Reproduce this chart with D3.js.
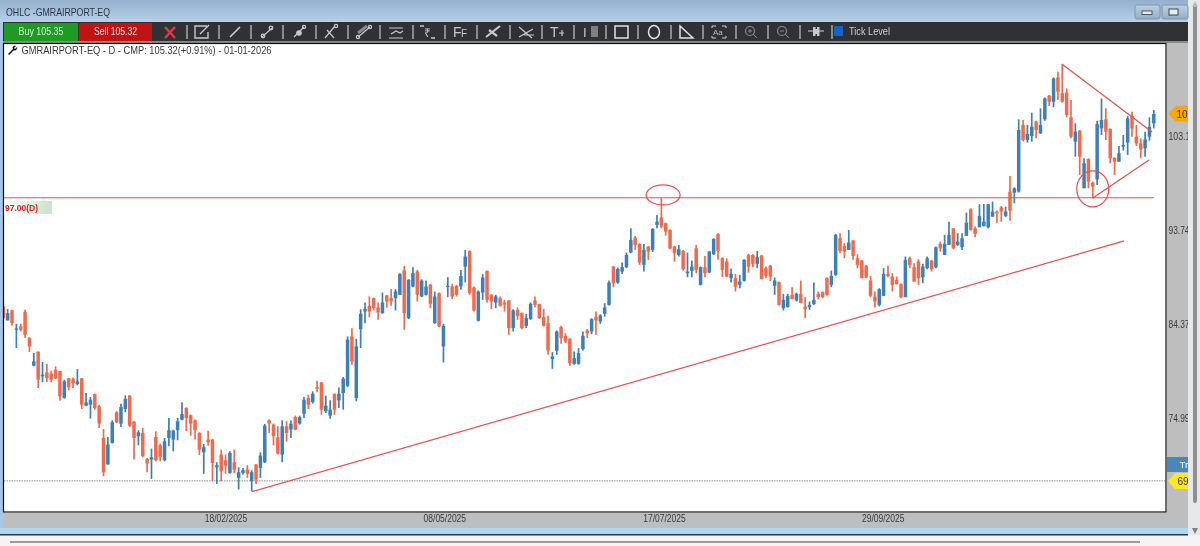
<!DOCTYPE html>
<html><head><meta charset="utf-8">
<script src="https://d3js.org/d3.v7.min.js"></script>
<style>html,body{margin:0;padding:0;background:#fff;overflow:hidden}svg{display:block;filter:blur(0.3px)}text{font-family:"Liberation Sans",Arial,sans-serif}</style>
</head><body><div id="c"></div>
<script>
const highs=[86.45,85.85,85.78,84.39,84.39,85.78,83.06,81.47,81.63,80.57,
80.41,79.71,80.14,79.71,78.81,78.98,79.04,79.87,78.98,77.48,
77.09,77.42,76.29,73.9,73.1,74.76,75.66,76.42,77.25,77.28,
74.7,73.77,74.0,71.01,71.94,73.67,72.44,73.0,74.99,73.83,
74.99,76.55,76.06,75.33,74.83,73.57,72.4,73.73,72.9,70.58,
71.84,71.34,71.67,71.84,70.08,70.01,70.28,69.78,70.41,71.57,
74.4,74.83,74.43,74.16,74.76,74.66,74.73,75.23,75.23,77.08,
77.31,77.65,78.71,78.58,77.21,76.75,77.41,78.04,79.07,83.12,
83.95,82.89,85.84,86.51,87.11,87.0,86.51,87.5,87.27,87.84,
87.84,89.43,90.16,88.83,90.03,89.76,88.83,88.7,88.37,87.6,
87.5,84.38,89.03,88.37,88.27,89.76,91.75,91.69,88.1,87.7,
89.33,89.7,87.34,87.27,87.11,86.77,86.77,85.84,86.01,85.51,
85.38,86.51,87.11,86.38,85.88,85.18,81.56,83.72,84.18,83.45,
82.96,81.63,81.96,83.62,83.85,84.95,85.61,85.34,86.44,88.7,
90.16,89.99,90.49,91.49,93.91,93.15,92.42,92.35,92.15,93.91,
95.24,96.9,94.47,93.81,92.15,92.25,91.75,91.49,90.69,92.25,
90.09,91.15,91.65,92.91,93.41,91.02,90.92,89.89,89.36,89.26,
90.82,91.35,91.32,91.65,91.25,90.09,90.26,88.99,88.6,87.37,
87.37,88.03,87.5,88.7,87.04,86.61,88.5,87.6,87.6,89.03,
89.69,93.35,93.41,92.42,93.74,92.75,91.32,90.76,90.26,89.16,
87.6,87.93,89.93,90.16,89.43,89.1,88.43,91.09,91.09,90.42,
90.82,90.36,91.09,90.76,92.08,92.58,93.25,94.57,93.91,93.41,
93.41,95.47,95.9,94.08,96.3,96.33,96.33,96.57,95.67,96.13,
96.07,99.12,97.99,104.77,104.7,104.21,105.43,104.64,105.87,106.96,
107.19,108.95,109.52,110.28,107.86,106.7,104.37,103.71,100.89,100.89,
98.56,104.64,106.86,105.87,103.87,100.99,102.11,103.21,105.1,105.53,
104.21,102.88,103.54,104.97,105.7];
const lows=[84.72,84.72,84.19,81.97,83.63,82.96,81.57,80.14,77.98,78.55,
78.58,78.55,78.88,76.72,76.92,77.75,77.98,78.25,75.89,76.16,
74.93,75.82,74.0,69.18,70.35,72.44,74.5,74.1,75.56,74.1,
70.84,72.27,71.08,69.58,68.92,70.68,70.68,70.68,72.17,71.67,
72.77,74.76,73.67,73.23,72.84,71.28,69.42,72.24,68.69,68.42,
68.69,69.45,69.42,69.52,67.86,69.35,69.02,67.69,68.42,69.02,
70.51,73.5,72.27,71.34,70.58,72.64,73.0,73.77,74.33,74.99,
75.89,76.42,77.55,75.32,75.49,74.92,75.32,75.99,75.82,78.08,
80.3,76.65,81.96,84.45,85.05,85.71,84.78,85.38,85.99,86.18,
85.71,87.27,83.79,84.85,88.04,86.61,87.04,87.21,85.94,84.38,
84.05,80.53,87.04,86.84,87.11,87.77,88.5,87.27,85.61,84.62,
86.77,86.51,85.84,85.94,86.11,85.61,83.29,83.62,84.78,83.85,
83.95,84.78,86.04,84.88,84.12,81.3,79.9,81.3,82.39,82.46,
80.2,80.3,80.3,81.73,82.96,83.35,83.29,84.38,85.11,86.2,
88.03,88.37,89.36,89.93,91.42,91.75,90.26,89.59,90.76,91.55,
93.91,93.91,93.18,91.82,90.59,91.09,89.69,89.03,89.03,89.43,
88.2,89.03,89.43,91.25,90.76,89.03,89.03,88.5,87.6,87.93,
88.6,89.49,90.03,89.93,88.83,88.93,88.66,87.27,86.2,85.71,
86.01,86.84,86.61,86.44,84.95,85.78,86.27,86.84,86.94,87.17,
88.03,89.16,91.42,90.92,91.75,90.76,89.93,88.93,88.93,87.04,
86.01,86.11,87.17,89.03,87.6,88.33,86.94,87.04,89.93,88.6,
88.27,88.43,89.83,89.59,89.93,91.59,91.25,92.25,91.82,92.15,
91.75,93.15,93.68,93.01,94.01,94.08,93.91,95.07,94.47,94.57,
95.01,94.67,96.4,97.47,102.55,102.45,102.55,102.88,103.31,104.64,
106.1,105.97,106.7,106.43,104.97,102.88,101.05,99.23,97.9,97.9,
96.9,98.23,103.21,102.71,100.39,99.23,100.55,101.65,101.22,103.04,
102.11,100.89,101.05,102.65,103.87];
const opens=[86.12,84.72,85.72,83.79,84.12,85.58,82.96,80.21,81.6,79.14,
79.54,79.41,79.81,79.68,76.99,78.95,78.91,78.38,78.95,76.22,
76.32,77.38,76.16,73.0,70.35,72.5,75.56,74.43,75.89,77.22,
74.63,73.17,73.5,70.91,70.84,73.1,72.27,70.78,73.0,72.84,
73.77,74.83,75.99,75.26,74.76,73.5,71.57,72.84,72.84,70.08,
71.34,70.78,69.52,70.58,69.02,69.52,69.85,68.69,70.35,70.01,
70.58,74.76,74.33,73.07,71.34,74.16,73.83,75.09,74.43,75.42,
76.98,76.58,78.08,78.54,75.65,75.22,77.41,76.75,77.48,78.21,
83.12,76.98,83.85,85.61,86.18,86.94,86.01,85.45,87.21,86.94,
86.94,87.27,89.7,84.95,88.1,89.6,87.11,87.27,88.27,84.45,
87.44,82.13,88.04,88.1,88.17,88.1,90.09,91.65,88.0,84.68,
87.5,89.66,87.27,86.51,86.94,86.51,86.71,83.95,85.78,85.45,
84.18,84.85,86.71,86.34,85.05,84.45,80.86,81.69,84.05,83.19,
82.89,80.4,80.4,81.86,83.72,83.62,85.05,84.61,85.38,86.27,
90.09,88.5,89.59,90.03,91.49,92.98,92.35,90.26,92.08,91.75,
94.24,95.0,94.41,93.74,92.08,91.25,91.65,89.43,89.66,91.92,
88.27,90.03,89.5,91.32,93.35,90.92,90.59,88.93,88.93,88.27,
88.66,91.25,91.25,90.36,91.19,89.93,90.16,88.17,88.53,85.94,
86.04,87.27,86.71,87.37,86.11,86.04,86.34,87.37,87.54,88.93,
88.27,89.26,92.91,92.15,91.75,92.68,90.92,90.69,90.16,88.7,
87.1,86.27,87.17,89.36,89.1,88.76,88.33,87.04,90.92,90.03,
90.59,89.03,89.93,90.69,90.03,92.35,91.25,92.25,93.91,92.25,
92.02,93.15,95.8,93.91,94.01,94.14,94.01,95.07,95.57,96.0,
95.14,97.56,97.46,97.57,104.21,102.71,103.11,104.54,103.38,104.77,
107.13,106.53,108.95,107.36,107.43,104.97,102.55,103.64,97.9,100.82,
98.46,98.79,103.87,104.77,103.81,100.92,100.55,102.05,102.45,105.1,
103.04,102.38,101.88,103.04,104.37];
const closes=[84.95,85.45,84.46,83.92,83.79,83.29,82.13,80.64,78.81,79.31,
78.98,78.81,78.95,77.15,78.65,78.08,78.48,78.65,76.32,76.55,
76.82,75.99,74.43,69.58,72.34,74.56,74.56,76.09,76.89,74.23,
73.0,73.57,71.18,70.45,71.08,70.78,71.11,72.67,73.77,73.73,
74.66,75.39,74.99,74.43,73.77,71.84,72.07,72.57,70.51,70.28,
69.68,70.25,71.51,69.85,69.58,69.78,69.45,69.58,68.85,71.24,
74.23,74.43,73.17,71.44,74.16,73.5,74.43,73.83,75.09,76.82,
76.32,77.41,77.91,75.82,76.22,75.82,75.82,77.41,78.91,82.8,
80.63,82.13,85.38,85.88,85.61,85.94,85.51,86.51,86.61,86.61,
87.6,89.36,85.45,88.77,89.43,87.27,88.7,88.1,86.38,87.11,
84.12,84.18,88.17,87.11,87.27,89.16,91.09,87.44,85.71,87.6,
89.0,86.77,86.61,87.11,86.18,86.28,83.95,85.71,85.18,83.95,
84.95,86.38,86.28,84.95,84.18,81.73,81.13,83.62,82.96,82.62,
80.47,80.96,81.46,83.19,83.45,84.85,84.72,85.21,86.01,88.5,
88.43,89.86,90.03,91.25,92.75,92.25,90.49,91.75,91.59,93.84,
94.57,94.08,93.58,91.88,91.42,91.82,89.83,89.59,90.09,89.76,
90.03,89.43,91.59,92.85,91.65,89.76,89.1,89.36,88.1,88.6,
90.76,90.09,90.36,91.02,88.83,89.16,89.1,88.7,86.27,86.77,
87.17,86.84,87.37,86.44,85.84,86.27,86.77,87.04,87.04,87.27,
89.16,93.25,91.65,91.59,92.48,91.15,90.26,88.93,88.99,87.17,
86.61,87.83,89.36,89.16,88.27,88.33,87.04,90.76,90.26,88.6,
88.93,90.09,90.92,89.83,92.02,91.92,92.35,93.25,91.92,92.58,
92.91,94.47,93.74,93.35,95.14,94.57,96.3,95.57,95.4,95.57,
95.57,95.67,97.89,103.71,102.71,103.31,104.04,103.71,104.21,106.86,
106.53,108.85,107.53,106.53,105.2,103.04,103.54,101.05,100.39,98.56,
98.06,104.31,104.7,103.54,100.89,100.55,101.38,102.21,104.87,103.87,
102.38,101.78,102.78,104.04,105.3];

const priceTicks=[103.11,93.74,84.37,74.99];
const dateTickIndex=[51,101.2,151.6,201.8];
const dateTickLabels=["18/02/2025","08/05/2025","17/07/2025","29/09/2025"];
const resistance=97.00;
const tradeLevel=68.72;
const lastPrice=105.32;
const trendStart=[57.07,67.65], trendEnd=[257.2,92.65];
const triTopA=[242.9,110.28], triTopB=[263.6,103.51];
const triBotA=[250,96.93], triBotB=[262.9,100.72];
const circleA=[151.4,97.23], circleB=[250,97.83];

const W=1200,H=546;
const svg=d3.select("#c").append("svg").attr("width",W).attr("height",H);
const defs=svg.append("defs");
const g1=defs.append("linearGradient").attr("id","top").attr("x1",0).attr("x2",0).attr("y1",0).attr("y2",1);
g1.append("stop").attr("offset",0).attr("stop-color","#94b0cd");
g1.append("stop").attr("offset",1).attr("stop-color","#b8d0e8");
const g2=defs.append("linearGradient").attr("id","lbl").attr("x1",0).attr("x2",1).attr("y1",0).attr("y2",0);
g2.append("stop").attr("offset",0).attr("stop-color","#ffffff");
g2.append("stop").attr("offset",1).attr("stop-color","#c6e3cc");
const g3=defs.append("linearGradient").attr("id","btn").attr("x1",0).attr("x2",0).attr("y1",0).attr("y2",1);
g3.append("stop").attr("offset",0).attr("stop-color","#bcd0e4");
g3.append("stop").attr("offset",1).attr("stop-color","#94aec8");
defs.append("clipPath").attr("id","plot").append("rect").attr("x",4).attr("y",44).attr("width",1162).attr("height",467);
defs.append("clipPath").attr("id","rax").append("rect").attr("x",1167).attr("y",44).attr("width",21).attr("height",484);

const R=(x,y,w,h,f)=>svg.append("rect").attr("x",x).attr("y",y).attr("width",w).attr("height",h).attr("fill",f);
R(0,0,W,H,"#f3f3f3");
R(0,0,1188,22,"url(#top)");
R(1188,0,12,535,"#e6e8ea");
R(0,22,3,512,"#a8c6e6");
R(0,528,1188,6,"#b0d6f0");
R(0,534,1188,1.5,"#2b3a48");
R(0,536,1200,10,"#f4f4f4");
R(10,541,1130,2,"#9a9a9a");
R(1193,4,4,499,"#8f8f8f").attr("rx",2);
svg.append("path").attr("d","M1192,534L1198,534L1195,528Z").attr("fill","#808080").attr("transform","rotate(180 1195 531)");
svg.append("path").attr("d","M1192,7L1198,7L1195,1Z").attr("fill","#b8b8b8");

// window title and buttons
svg.append("text").attr("x",6).attr("y",16).attr("font-size",10.5).attr("fill","#2a3644").attr("textLength",104).attr("lengthAdjust","spacingAndGlyphs").text("OHLC -GMRAIRPORT-EQ");
[[1135,25],[1162,26]].forEach(b=>R(b[0],5,b[1],14,"url(#btn)").attr("stroke","#7f95ab").attr("rx",2));
R(1142,11,10,3.5,"#e6edf4").attr("stroke","#555");
R(1169,9,9,6,"#e6edf4").attr("stroke","#444");

// toolbar
R(3,22,1185,19,"#2f3135");
R(3,41,1185,2,"#8a8a8a");
R(4,23,74,18,"#1f9a25");
R(79,23,73,18,"#c01414");
const tb=(s,xc,w,col)=>svg.append("text").attr("x",xc).attr("y",35).attr("text-anchor","middle").attr("font-size",10.5).attr("fill",col).attr("textLength",w).attr("lengthAdjust","spacingAndGlyphs").text(s);
tb("Buy 105.35",41,45,"#d8efd8");tb("Sell 105.32",115.5,43,"#f6dcdc");
const seps=[187,219,251,283,316,348,380,413,445,477,510,542,574,606,638,671,703,736,768,800,832];
svg.append("g").selectAll("line").data(seps).join("line").attr("x1",d=>d).attr("x2",d=>d).attr("y1",25).attr("y2",39).attr("stroke","#e4e4e4").attr("stroke-width",1);
const ic=svg.append("g").attr("fill","none").attr("stroke","#c8c8c8").attr("stroke-width",1.2);
const P=(d,c,w)=>ic.append("path").attr("d",d).attr("stroke",c||"#c8c8c8").attr("stroke-width",w||1.2);
P("M165,27L175,38M175,27L165,38","#e8393a",2.4);
P("M207,26H195V38H208V32M200,34L209,25","#c8c8c8",1.4);
P("M230,37L240,27","#d0d0d0",1.6);
P("M262,37L272,28");ic.append("circle").attr("cx",263).attr("cy",36).attr("r",1.8);ic.append("circle").attr("cx",271).attr("cy",28).attr("r",1.8);
P("M294,37L304,27");ic.append("circle").attr("cx",299).attr("cy",33).attr("r",2.2).attr("fill","#c8c8c8");ic.append("circle").attr("cx",304).attr("cy",27).attr("r",1.6);
P("M325,38L335,26M327,30L334,38");ic.append("circle").attr("cx",336).attr("cy",26).attr("r",1.6);
P("M358,37L370,27");P("M358,33L367,26","#8a8a8a",3);ic.append("circle").attr("cx",358).attr("cy",37).attr("r",1.6);ic.append("circle").attr("cx",370).attr("cy",27).attr("r",1.6);
P("M389,28H403M389,38H403M391,34L396,31L400,33L403,31");
P("M420,26H424M431,38H435","#c8c8c8",1.3);
svg.append("text").attr("x",424).attr("y",37).attr("font-size",12).attr("fill","#c8c8c8").attr("font-family","DejaVu Sans").text("₹");
svg.append("text").attr("x",453).attr("y",37).attr("font-size",14).attr("fill","#c8c8c8").attr("font-family","Liberation Serif").text("F");
svg.append("text").attr("x",461).attr("y",37).attr("font-size",10).attr("fill","#c8c8c8").attr("font-family","Liberation Serif").text("F");
P("M486,37L500,26M489,30L497,36","#c8c8c8",2.2);
P("M519,37L533,29M519,27L532,38M524,35L534,35");
svg.append("text").attr("x",550).attr("y",37).attr("font-size",14).attr("fill","#c8c8c8").attr("font-family","Liberation Serif").text("T");
P("M559,33H564M562,30V36");
svg.append("text").attr("x",583).attr("y",37).attr("font-size",13).attr("fill","#c8c8c8").attr("font-family","Liberation Serif").text("I");
R(591,26,7,11,"#808080");
R(615,26,13,12,"none").attr("stroke","#e2e2e2").attr("stroke-width",1.5);
ic.append("ellipse").attr("cx",654).attr("cy",32).attr("rx",5.5).attr("ry",6.5).attr("stroke","#e2e2e2").attr("stroke-width",1.5);
P("M680,26L680,38H693Z","#e2e2e2",1.5);
P("M712,28V26H716M722,26H726V28M712,36V38H716M722,38H726V36","#cfcfcf",1);
svg.append("text").attr("x",713).attr("y",35).attr("font-size",8).attr("fill","#bdbdbd").text("Aa");
ic.append("circle").attr("cx",750).attr("cy",31).attr("r",4.5).attr("stroke","#8a8a8a");P("M753,34L757,38M748,31H752M750,29V33","#8a8a8a",1);
ic.append("circle").attr("cx",782).attr("cy",31).attr("r",4.5).attr("stroke","#8a8a8a");P("M785,34L789,38M780,31H784","#8a8a8a",1);
P("M808,31H824","#bdbdbd",1.2);R(813,27,2.5,9,"#c8c8c8");R(817,27,2.5,9,"#c8c8c8");R(814,29,5,5,"#c8c8c8");
R(834,26,9,10,"#1565c0");
P("M836,31L838,33L841,29","#e8f0ff",1);
svg.append("text").attr("x",849).attr("y",35).attr("font-size",10.5).attr("fill","#d0d0d0").attr("textLength",41).attr("lengthAdjust","spacingAndGlyphs").text("Tick Level");

// panels
R(1167,43,21,485,"#bebebe");
R(3,513,1185,15,"#bebebe");
R(4,44,1162,468,"#ffffff");

// scales
const x=d3.scaleLinear().domain([0,264]).range([3.3,1153.8]);
const y=d3.scaleLinear().domain([103.11,74.99]).range([136,418]);
const candles=d3.range(highs.length).map(i=>({i,o:opens[i],h:highs[i],l:lows[i],c:closes[i]}));
const plot=svg.append("g").attr("clip-path","url(#plot)");
const BLUE="#3e7fb6",RED="#f26a4b",LINE="#ee4d4d";

plot.append("line").attr("x1",4).attr("x2",1166).attr("y1",y(tradeLevel)).attr("y2",y(tradeLevel)).attr("stroke","#8c8c8c").attr("stroke-dasharray","1.5 1").attr("stroke-width",1);

const cg=plot.append("g");
cg.selectAll("line").data(candles).join("line")
 .attr("x1",d=>x(d.i)).attr("x2",d=>x(d.i)).attr("y1",d=>y(d.h)).attr("y2",d=>y(d.l))
 .attr("stroke",d=>d.c>=d.o?BLUE:RED).attr("stroke-width",1.7);
cg.selectAll("rect").data(candles).join("rect")
 .attr("x",d=>x(d.i)-1.75).attr("width",3.5)
 .attr("y",d=>y(Math.max(d.o,d.c))).attr("height",d=>Math.max(1.2,Math.abs(y(d.o)-y(d.c))))
 .attr("fill",d=>d.c>=d.o?BLUE:RED);

plot.append("line").attr("x1",0).attr("x2",x(264)).attr("y1",y(resistance)+0.5).attr("y2",y(resistance)+0.5).attr("stroke",LINE).attr("stroke-width",1.2);
[[trendStart,trendEnd],[triTopA,triTopB],[triBotA,triBotB]].forEach(s=>{
 plot.append("line").attr("x1",x(s[0][0])).attr("y1",y(s[0][1])).attr("x2",x(s[1][0])).attr("y2",y(s[1][1])).attr("stroke",LINE).attr("stroke-width",1.2);
});
plot.append("ellipse").attr("cx",x(circleA[0])).attr("cy",y(circleA[1])).attr("rx",17).attr("ry",10).attr("fill","none").attr("stroke",LINE).attr("stroke-width",1.2);
plot.append("ellipse").attr("cx",x(circleB[0])).attr("cy",y(circleB[1])).attr("rx",16).attr("ry",18).attr("fill","none").attr("stroke",LINE).attr("stroke-width",1.2);

// chart frame
svg.append("rect").attr("x",3.5).attr("y",43.5).attr("width",1162.5).attr("height",468.5).attr("fill","none").attr("stroke","#111").attr("stroke-width",1.2);

// header text + wrench
svg.append("path").attr("d","M8,54L13,49L12.5,47.5C13,46,15,45.5,16,46L14,48L15,49L17,47C17.5,48.5,16.5,50.5,14.5,50.5L13.5,50.5L9,55Z").attr("fill","#111");
svg.append("text").attr("x",21.5).attr("y",54).attr("font-size",11).attr("fill","#3a3a3a").attr("textLength",250).attr("lengthAdjust","spacingAndGlyphs").text("GMRAIRPORT-EQ - D - CMP: 105.32(+0.91%) - 01-01-2026");

// resistance label
R(4,201,48,13,"url(#lbl)");
svg.append("text").attr("x",5).attr("y",210.5).attr("font-size",9.5).attr("font-weight","bold").attr("fill","#e0201c").attr("textLength",33).attr("lengthAdjust","spacingAndGlyphs").text(resistance.toFixed(2)+"(D)");

// axes
const ya=svg.append("g").attr("clip-path","url(#rax)");
const yAxis=ya.append("g").attr("transform","translate(1168.5,0)").call(d3.axisRight(y).tickValues(priceTicks).tickSize(0).tickPadding(0).tickFormat(d3.format(".2f")));
yAxis.select(".domain").remove();
yAxis.selectAll("text").attr("font-size",10).attr("fill","#3a3a3a").style("font-family",'"Liberation Sans",Arial,sans-serif')
 .attr("textLength",d=>d>=100?26:21).attr("lengthAdjust","spacingAndGlyphs");
const xAxis=svg.append("g").attr("transform","translate(0,513.5)").call(d3.axisBottom(x).tickValues(dateTickIndex).tickSize(0).tickPadding(1).tickFormat((d,i)=>dateTickLabels[i]));
xAxis.select(".domain").remove();
xAxis.selectAll("text").attr("font-size",10).attr("fill","#3a3a3a").style("font-family",'"Liberation Sans",Arial,sans-serif')
 .attr("textLength",42.5).attr("lengthAdjust","spacingAndGlyphs");

// price tags
const tagG=svg.append("g").attr("clip-path","url(#rax)");
const yl=y(lastPrice);
tagG.append("path").attr("d",`M1168,${yl}L1176,${yl-8}H1190V${yl+8}H1176Z`).attr("fill","#f8a70a");
tagG.append("text").attr("x",1176.5).attr("y",yl+4).attr("font-size",10).attr("fill","#333").text("10");
tagG.append("rect").attr("x",1167).attr("y",457).attr("width",22).attr("height",15).attr("fill","#4a86b8");
tagG.append("text").attr("x",1179.5).attr("y",468).attr("font-size",9.5).attr("fill","#fff").text("Tr");
const yt=y(tradeLevel);
tagG.append("path").attr("d",`M1168,${yt}L1175,${yt-8}H1190V${yt+8}H1175Z`).attr("fill","#ffe81a");
tagG.append("text").attr("x",1177.5).attr("y",yt+4).attr("font-size",10).attr("fill","#333").text("69");
</script></body></html>
